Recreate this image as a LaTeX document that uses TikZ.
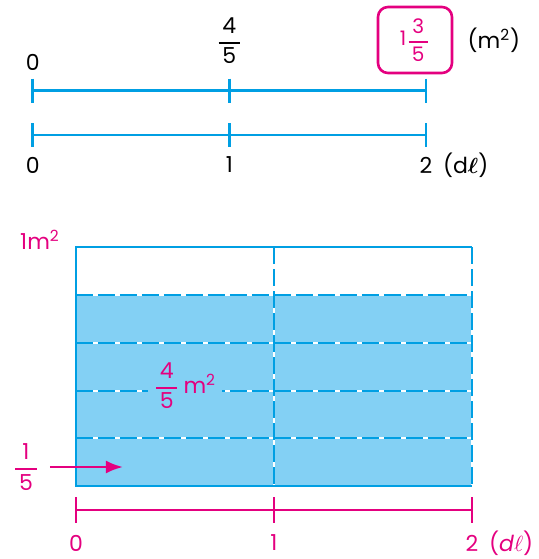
\documentclass[tikz,border=0pt]{standalone}
\usepackage{amsmath}
\usepackage{fontspec}
\setmainfont{Poppins}
\usetikzlibrary{positioning, arrows.meta}
\definecolor{lineblue}{HTML}{009FE3}
\definecolor{fillblue}{HTML}{83D0F4}
\definecolor{magentaA}{HTML}{E4007F}
\tikzset{
  numline/.style={line width=1.3pt, color=lineblue},
  magline/.style={line width=1.4pt, color=magentaA},
  solidedge/.style={line width=1.2pt, color=lineblue},
  gapline/.style={line width=1.2pt, color=white},
  dashline/.style={line width=1.2pt, color=lineblue, dash pattern=on 8.5pt off 2.5pt},
  lbl/.style={font=\fontsize{11}{13}\selectfont, inner sep=1pt},
  mlbl/.style={lbl, text=magentaA},
  answer/.style={draw=magentaA, line width=1.3pt, rounded corners=5pt,
    minimum width=37pt, minimum height=33pt, inner sep=0pt, text=magentaA},
  arrm/.style={line width=1.3pt, color=magentaA, -{Latex[length=8.5pt, width=6.5pt]}},
}
\newcommand{\frc}[2]{$\genfrac{}{}{0.7pt}{0}{\,\mbox{#1}\,}{\,\mbox{#2}\,}$}

\begin{document}
\begin{tikzpicture}[x=0.5pt, y=-0.5pt]
\useasboundingbox (0,0) rectangle (538,559);

% ── Doppelter Zahlenstrahl ──────────────────────────────────
\coordinate (a0) at (32.7,90.7);
\coordinate (a1) at (229.3,90.7);
\coordinate (a2) at (426,90.7);
\coordinate (b0) at (32.7,135);
\coordinate (b1) at (229.3,135);
\coordinate (b2) at (426,135);
\draw[numline] (a0) -- (a2);
\draw[numline] (b0) -- (b2);
\foreach \p in {a0,a1,a2,b0,b1,b2} {
  \draw[numline] ([yshift=6pt]\p) -- ([yshift=-6pt]\p);
}
\node[lbl] (ta0) at (32.7,62) {0};
\node[lbl] (ta1) at (229.3,41) {\frc{4}{5}};
\node[answer] (ta2) at (415,40) {\raisebox{0.5pt}{\fontsize{10}{12}\selectfont 1}\frc{3}{5}};
\node[lbl, right=6pt of ta2] (unitA) {(m\textsuperscript{2})};
\node[lbl] (tb0) at (32.7,165) {0};
\node[lbl] (tb1) at (229.3,165) {1};
\node[lbl] (tb2) at (426,165) {2};
\node[lbl, right=3pt of tb2] (unitB) {(d$\boldsymbol{\ell}$)};

% ── Flächenmodell ───────────────────────────────────────────
\coordinate (nw) at (76,247);
\coordinate (ne) at (472,247);
\coordinate (sw) at (76,486);
\coordinate (se) at (472,486);
\coordinate (mt) at (274,247);
\coordinate (mb) at (274,486);
\fill[fillblue] (76,295) rectangle (se);
\foreach \y in {295,343,391,438} {
  \draw[gapline] (76,\y) -- (472,\y);
  \draw[dashline] (76,\y) -- (472,\y);
}
\draw[gapline] (mt) -- (mb);
\draw[gapline] (ne) -- (se);
\draw[dashline] (mt) -- (mb);
\draw[dashline] (ne) -- (se);
\draw[solidedge] (se) -- (sw) -- (nw) -- (ne);

\node[mlbl] (onem) at (40,240) {1m\textsuperscript{2}};
\node[mlbl, fill=fillblue, inner xsep=3pt, inner ysep=0pt] (part) at (185,386) {\frc{4}{5}\,m\textsuperscript{2}};
\node[mlbl] (fifth) at (26,467) {\frc{1}{5}};
\coordinate (tip) at (123,467);
\draw[arrm] (50,467) -- (tip);

% ── Skala unten ─────────────────────────────────────────────
\coordinate (c0) at (76,510);
\coordinate (c1) at (274,510);
\coordinate (c2) at (472,510);
\draw[magline] (c0) -- (c2);
\foreach \p in {c0,c1,c2} {
  \draw[magline] ([yshift=6.5pt]\p) -- ([yshift=-6.5pt]\p);
}
\node[mlbl] (tc0) at (76,543) {0};
\node[mlbl] (tc1) at (274,543) {1};
\node[mlbl] (tc2) at (472,543) {2};
\node[mlbl, right=3pt of tc2] (unitC) {(\textit{d}$\ell$)};

\end{tikzpicture}
\end{document}
